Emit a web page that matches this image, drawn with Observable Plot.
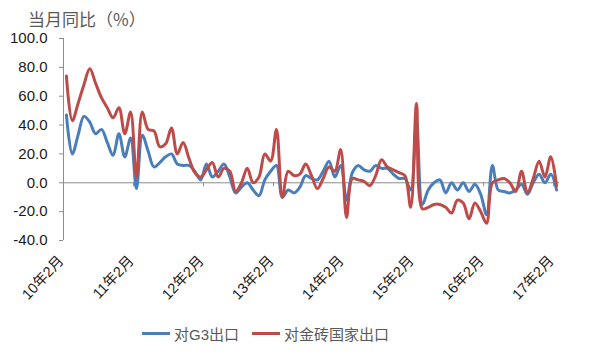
<!DOCTYPE html>
<html><head><meta charset="utf-8">
<script src="https://cdn.jsdelivr.net/npm/d3@7"></script>
<script src="https://cdn.jsdelivr.net/npm/@observablehq/plot@0.6"></script>
<style>
body{margin:0;background:#fff;}
#wrap{position:relative;width:600px;height:360px;font-family:"Liberation Sans","Noto Sans CJK SC",sans-serif;}
#title{position:absolute;left:28px;top:6px;font-size:17px;color:#595959;font-family:"Noto Sans CJK SC",sans-serif;}
.leg{position:absolute;top:323px;display:flex;align-items:center;font-size:15px;color:#595959;font-family:"Liberation Sans","Noto Sans CJK SC",sans-serif;}
.sw{display:inline-block;width:28px;height:3px;margin-right:4px;}
#chart{position:absolute;left:0;top:0;}
</style>
</head><body>
<div id="wrap">
  <div id="chart"></div>
  <div id="title"></div>
  <div id="legend"></div>
</div>
<script>
const titleText = "当月同比（%）";
const seriesNames = ["对G3出口", "对金砖国家出口"];
const seriesColors = ["#4a7ebb", "#be4b48"];
const yearLabels = ["10年2月","11年2月","12年2月","13年2月","14年2月","15年2月","16年2月","17年2月"];
const yTicks = [-40, -20, 0, 20, 40, 60, 80, 100];
// monthly categories Feb 2010 – Feb 2017
const months = d3.utcMonth.range(new Date(Date.UTC(2010,1,1)), new Date(Date.UTC(2017,2,1))).map(d3.utcFormat("%Y-%m"));

const g3 = [
  47, 20, 33, 46, 42, 34, 37, 28, 19, 34, 18, 31, -4,
  33, 22, 11, 14, 18, 20, 13, 12, 12, 8, 2,
  13, 4, 8, 13, 4, -7, -3, 0, -5, -9, 2, 8, 12,
  -10, -5, -7, -3, 5, 3, 2, 8, 15, 4, 12,
  -12, 7, 12, 9, 8, 12, 10, 10, 6, 3, 3, -5, 43,
  -15, -5, 0, 2, -7, 0, -5, 0, -6, -1, -8, -22,
  12, -5, -6, -7, -5, -1, -8, 0, 6, 0, 6, -5
];
const brics = [
  74, 43, 55, 68, 79, 69, 59, 52, 45, 52, 34, 49, 4,
  49, 37, 36, 25, 27, 38, 20, 28, 17, 7, 4,
  9, 14, 4, 10, 8, -6, 0, 10, 0, 4, 20, 15, 37,
  -10, 8, 5, 6, 13, 5, -4, 3, 11, 8, 23,
  -24, 3, 2, 1, -2, 5, 16, 11, 9, 7, 5, -17, 55,
  -18, -17, -15, -15, -17, -21, -12, -14, -25, -14, -20, -28,
  0, 2, 3, 0, -6, 8, -7, 3, 15, 4, 18, -2
];

const rows = months.map((m, i) => ({i, month: m, g3: g3[i], brics: brics[i]}));
const xLabels = yearLabels.map((label, k) => ({label, i: months.indexOf(`${2010 + k}-02`)}));
const n = months.length;

document.getElementById("title").textContent = titleText;

const chart = Plot.plot({
  width: 600, height: 360,
  marginLeft: 63, marginRight: 41, marginTop: 38, marginBottom: 120,
  x: {domain: [-0.5, n - 0.5], axis: null},
  y: {domain: [-40, 100], axis: null},
  style: {fontFamily: '"Liberation Sans","Noto Sans CJK SC",sans-serif', fontSize: "14px", background: "transparent"},
  marks: [
    Plot.axisY({ticks: yTicks, tickFormat: d => d.toFixed(1), tickSize: 4, tickPadding: 12, stroke: "#8c8c8c", fill: "#1a1a1a", fontSize: 15}),
    Plot.ruleX([-0.5], {y1: -40, y2: 100, stroke: "#8c8c8c"}),
    Plot.ruleY([0], {x1: -0.5, x2: n - 0.5, stroke: "#8c8c8c"}),
    Plot.ruleX(xLabels, {x: d => d.i - 0.5, y1: 0, y2: -2.8, stroke: "#8c8c8c"}),
    Plot.text(xLabels, {x: d => d.i - 0.5, frameAnchor: "bottom", text: "label", rotate: -47, textAnchor: "end", dy: 21, dx: 1, fontSize: 14.5, fill: "#1a1a1a"}),
    Plot.line(rows, {x: "i", y: "g3", stroke: seriesColors[0], strokeWidth: 3, curve: "catmull-rom"}),
    Plot.line(rows, {x: "i", y: "brics", stroke: seriesColors[1], strokeWidth: 3, curve: "catmull-rom"})
  ]
});
document.getElementById("chart").appendChild(chart);

const legend = document.getElementById("legend");
const legLeft = [142, 252];
seriesNames.forEach((name, k) => {
  const item = document.createElement("div");
  item.className = "leg";
  item.style.left = legLeft[k] + "px";
  item.innerHTML = `<span class="sw" style="background:${seriesColors[k]}"></span><span>${name}</span>`;
  legend.appendChild(item);
});
</script>
</body></html>
